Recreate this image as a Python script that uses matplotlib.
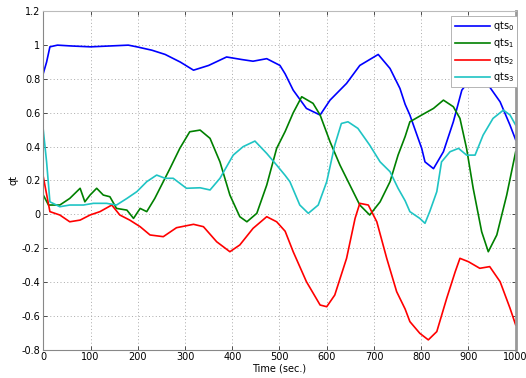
import numpy as np
import matplotlib
matplotlib.use("Agg")
import matplotlib.pyplot as plt

# values
t0 = [0, 7, 14, 30, 60, 100, 140, 180, 198, 230, 258, 290, 318, 350, 388, 420, 444, 473,
      501, 512, 529, 557, 586, 607, 642, 670, 709, 734, 755, 766, 776, 801, 808, 826, 847,
      868, 886, 910, 925, 942, 967, 988, 1000]
qts0 = [0.833, 0.9, 0.99, 1.0, 0.995, 0.99, 0.995, 1.0, 0.99, 0.97, 0.945, 0.9, 0.852,
        0.88, 0.93, 0.915, 0.905, 0.92, 0.88, 0.83, 0.734, 0.626, 0.587, 0.675, 0.774,
        0.88, 0.945, 0.862, 0.744, 0.65, 0.587, 0.39, 0.31, 0.27, 0.37, 0.547, 0.734,
        0.82, 0.83, 0.764, 0.665, 0.527, 0.44]

t1 = [0, 11, 35, 56, 78, 88, 99, 113, 127, 141, 155, 177, 191, 205, 219, 236, 254, 268,
      289, 310, 332, 353, 374, 395, 416, 431, 452, 473, 494, 512, 529, 547, 571, 586,
      607, 628, 649, 670, 691, 713, 734, 751, 766, 776, 801, 826, 847, 868, 882, 896,
      910, 928, 942, 960, 981, 1000]
qts1 = [0.114, 0.055, 0.055, 0.094, 0.154, 0.074, 0.114, 0.154, 0.114, 0.104, 0.035,
        0.025, -0.024, 0.035, 0.016, 0.094, 0.193, 0.27, 0.39, 0.488, 0.498, 0.449,
        0.31, 0.114, -0.014, -0.044, 0.006, 0.173, 0.39, 0.49, 0.6, 0.695, 0.656, 0.587,
        0.429, 0.291, 0.173, 0.055, -0.004, 0.074, 0.193, 0.35, 0.46, 0.547, 0.587, 0.626,
        0.675, 0.636, 0.567, 0.39, 0.154, -0.103, -0.221, -0.122, 0.114, 0.37]

t2 = [0, 14, 35, 56, 78, 99, 120, 145, 162, 183, 205, 226, 254, 282, 318, 339, 367, 395,
      416, 444, 473, 494, 512, 529, 557, 586, 600, 617, 642, 660, 670, 688, 706, 727,
      748, 766, 776, 797, 815, 833, 854, 872, 882, 900, 924, 945, 967, 988, 1000]
qts2 = [0.222, 0.016, -0.004, -0.044, -0.034, -0.004, 0.016, 0.055, -0.004, -0.034,
        -0.073, -0.122, -0.132, -0.079, -0.059, -0.073, -0.162, -0.221, -0.181, -0.083,
        -0.014, -0.044, -0.1, -0.221, -0.398, -0.536, -0.546, -0.477, -0.26, -0.024,
        0.065, 0.055, -0.044, -0.26, -0.457, -0.56, -0.634, -0.703, -0.742, -0.693,
        -0.496, -0.339, -0.26, -0.28, -0.319, -0.309, -0.398, -0.555, -0.654]

t3 = [0, 7, 14, 35, 56, 85, 106, 134, 155, 177, 198, 219, 240, 258, 275, 303, 332, 353,
      374, 402, 423, 448, 473, 494, 512, 522, 543, 561, 582, 600, 617, 631, 645, 666,
      691, 713, 734, 751, 766, 776, 797, 808, 818, 833, 843, 861, 879, 896, 914, 931,
      952, 974, 988, 1000]
qts3 = [0.498, 0.31, 0.074, 0.045, 0.055, 0.055, 0.065, 0.065, 0.055, 0.094, 0.134,
        0.193, 0.232, 0.213, 0.213, 0.154, 0.157, 0.144, 0.213, 0.35, 0.4, 0.433, 0.36,
        0.291, 0.23, 0.193, 0.055, 0.006, 0.055, 0.193, 0.409, 0.537, 0.547, 0.508, 0.409,
        0.31, 0.252, 0.154, 0.08, 0.016, -0.024, -0.053, 0.016, 0.134, 0.31, 0.37, 0.39,
        0.35, 0.35, 0.468, 0.567, 0.616, 0.587, 0.527]

labels = ['qts$_0$', 'qts$_1$', 'qts$_2$', 'qts$_3$']
colors = ['#0000ff', '#008000', '#ff0000', '#1fc4c4']

fig = plt.figure(figsize=(5.26, 3.78), dpi=100)
ax = fig.add_axes([0.0823, 0.0749, 0.8981, 0.8952])

series = [(t0, qts0), (t1, qts1), (t2, qts2), (t3, qts3)]
for (t, q), c, lab in zip(series, colors, labels):
    ax.plot(t, q, color=c, linewidth=1.2, label=lab)

ax.set_xlim(0, 1000)
ax.set_ylim(-0.8, 1.2)
ax.set_xticks(np.arange(0, 1001, 100))
ax.set_yticks(np.arange(-0.8, 1.21, 0.2))
ax.set_yticklabels(['-0.8', '-0.6', '-0.4', '-0.2', '0', '0.2', '0.4', '0.6', '0.8', '1', '1.2'])
ax.tick_params(direction='in', top=True, right=True, labelsize=7, length=3, width=0.6,
               colors='#333333', labelcolor='black', pad=2)
ax.grid(True, linestyle=(0, (1, 2.5)), color='#aaaaaa', linewidth=0.7)
for s in ax.spines.values():
    s.set_color('#888888')
    s.set_linewidth(0.8)
ax.spines['top'].set_color('#bbbbbb')
ax.spines['right'].set_linewidth(2.0)
ax.spines['right'].set_color('#999999')

ax.set_xlabel('Time (sec.)', fontsize=7, labelpad=1)
ax.set_ylabel('qt', fontsize=7, labelpad=2)

leg = ax.legend(loc='upper right', bbox_to_anchor=(0.983, 0.958),
                bbox_transform=fig.transFigure, fontsize=7, frameon=True,
                fancybox=False, framealpha=1.0, edgecolor='#aaaaaa',
                handlelength=3.6, handletextpad=0.3, labelspacing=0.3,
                borderpad=0.35, borderaxespad=0)
leg.get_frame().set_linewidth(0.6)

fig.savefig('out.png', dpi=100)
